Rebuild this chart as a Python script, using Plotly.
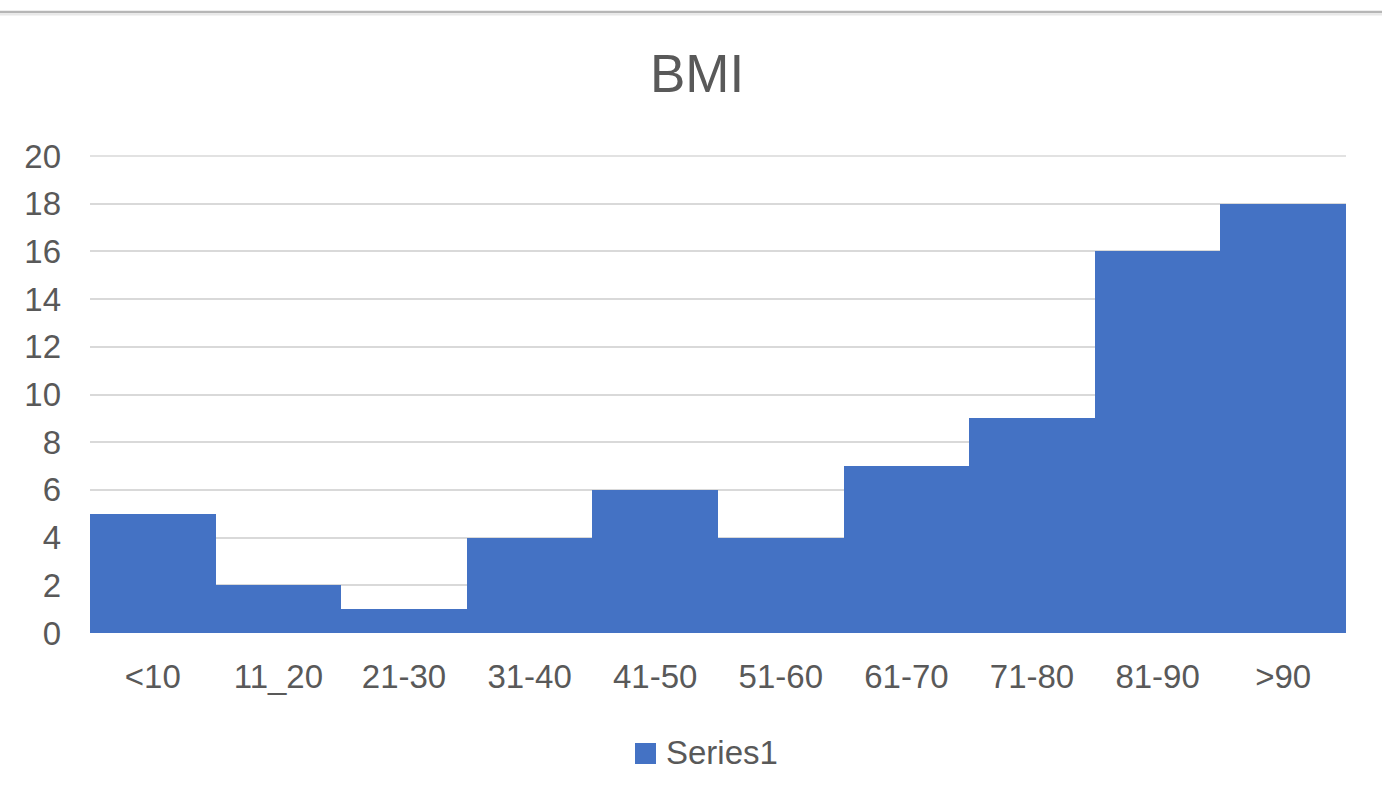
import plotly.graph_objects as go

# Chart data
categories = ["<10", "11_20", "21-30", "31-40", "41-50", "51-60", "61-70", "71-80", "81-90", ">90"]
values = [5, 2, 1, 4, 6, 4, 7, 9, 16, 18]
y_ticks = [0, 2, 4, 6, 8, 10, 12, 14, 16, 18, 20]
series_name = "Series1"
chart_title = "BMI"

W, H = 1382, 807
ML, MR, MT, MB = 90, 36, 156, 174
PW = W - ML - MR
PH = H - MT - MB

BLUE = "#4472C4"
TEXT = "#595959"
GRID = "#D9D9D9"
FONT = "Liberation Sans, Arial, Helvetica, sans-serif"


def px_x(px):
    return (px - ML) / PW


def px_y(py):
    return (H - MB - py) / PH


fig = go.Figure(
    go.Bar(
        x=categories,
        y=values,
        name=series_name,
        marker=dict(color=BLUE, line=dict(width=0)),
        width=1,
        showlegend=False,
    )
)

fig.update_layout(
    width=W,
    height=H,
    margin=dict(l=ML, r=MR, t=MT, b=MB, pad=0),
    paper_bgcolor="white",
    plot_bgcolor="white",
    bargap=0,
    font=dict(family=FONT, color=TEXT, size=33),
    title=dict(
        text=chart_title,
        x=697 / W,
        xanchor="center",
        y=1 - 73 / H,
        yanchor="middle",
        font=dict(family=FONT, size=53, color=TEXT),
    ),
    xaxis=dict(
        type="category",
        showgrid=False,
        showline=False,
        zeroline=False,
        ticks="",
        ticklabelstandoff=21,
        tickfont=dict(size=33, color=TEXT),
    ),
    yaxis=dict(
        range=[0, 20],
        tickvals=y_ticks,
        showgrid=True,
        gridcolor=GRID,
        gridwidth=1.5,
        zeroline=False,
        showline=False,
        ticks="",
        ticklabelstandoff=28,
        tickfont=dict(size=33, color=TEXT),
    ),
)

# Top gridline at the upper end of the value range
fig.add_shape(
    type="line", xref="paper", yref="paper",
    x0=0, x1=1, y0=1, y1=1,
    line=dict(color=GRID, width=1.5), layer="below",
)

# Legend swatch and label
fig.add_shape(
    type="rect", xref="paper", yref="paper",
    x0=px_x(635), x1=px_x(656), y0=px_y(764), y1=px_y(743),
    fillcolor=BLUE, line=dict(width=0),
)
fig.add_annotation(
    xref="paper", yref="paper",
    x=px_x(664), y=px_y(752),
    xanchor="left", yanchor="middle",
    text=series_name, showarrow=False,
    font=dict(family=FONT, size=33, color=TEXT),
)

# Thin frame line across the top of the page
fig.add_shape(
    type="line", xref="paper", yref="paper",
    x0=px_x(0), x1=px_x(W), y0=px_y(12), y1=px_y(12),
    line=dict(color="#B6B6B6", width=2.5),
)
fig.add_shape(
    type="line", xref="paper", yref="paper",
    x0=px_x(0), x1=px_x(W), y0=px_y(14.5), y1=px_y(14.5),
    line=dict(color="#E8E8E8", width=2),
)

fig.write_html("out.html")
